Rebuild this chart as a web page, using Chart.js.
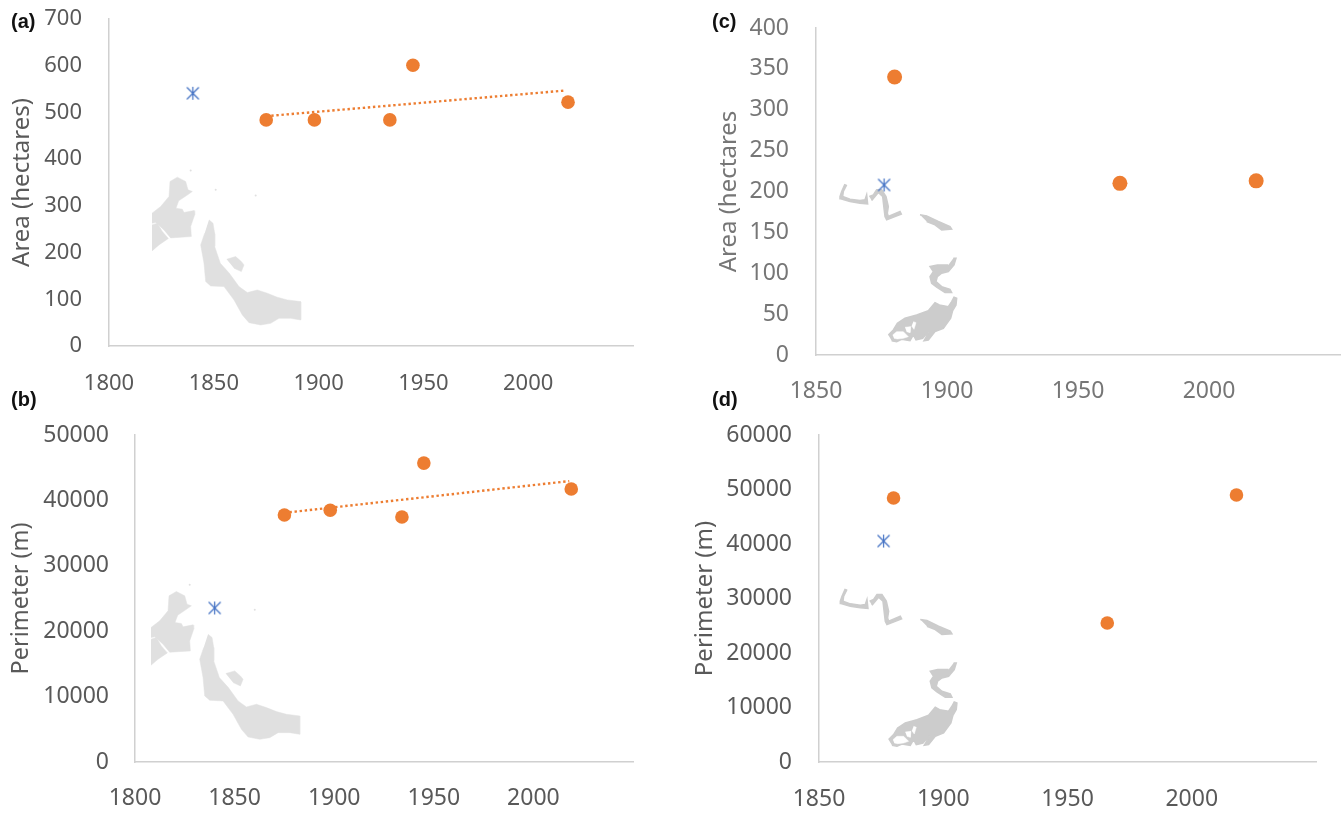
<!DOCTYPE html>
<html>
<head>
<meta charset="utf-8">
<script src="https://cdn.jsdelivr.net/npm/chart.js@4"></script>
<style>
  html, body { margin: 0; background: #fff; }
  body { width: 1343px; height: 813px; position: relative; overflow: hidden; }
  canvas { position: absolute; }
  .tag { position: absolute; font: bold 20px/23px "Liberation Sans", sans-serif; color: #111; z-index: 2; }
</style>
</head>
<body>
<div class="tag" style="left:11px;top:10px">(a)</div>
<div class="tag" style="left:11px;top:388px">(b)</div>
<div class="tag" style="left:712px;top:10px">(c)</div>
<div class="tag" style="left:712px;top:388px">(d)</div>
<canvas id="chart-a" width="640" height="400" style="left:0;top:0"></canvas>
<canvas id="chart-b" width="640" height="413" style="left:0;top:400px"></canvas>
<canvas id="chart-c" width="653" height="400" style="left:690px;top:0"></canvas>
<canvas id="chart-d" width="653" height="413" style="left:690px;top:400px"></canvas>
<script>
// panel values
const areaA_years = [1875, 1898, 1934, 1945, 2019];
const areaA_vals = [484, 484, 484, 601, 522];
const areaA_star = [{ x: 1840, y: 541 }];
const areaA_trend = [{ x: 1875, y: 492 }, { x: 2018, y: 547 }];

const perimB_years = [1875, 1898, 1934, 1945, 2019];
const perimB_vals = [37770, 38500, 37460, 45700, 41740];
const perimB_star = [{ x: 1840, y: 23550 }];
const perimB_trend = [{ x: 1875, y: 38100 }, { x: 2018, y: 42950 }];

const areaC_years = [1880, 1966, 2018];
const areaC_vals = [340, 210, 213];
const areaC_star = [{ x: 1876, y: 208 }];

const perimD_years = [1880, 1966, 2018];
const perimD_vals = [48440, 25500, 48990];
const perimD_star = [{ x: 1876, y: 40550 }];

const xTicksLeft = [1800, 1850, 1900, 1950, 2000];
const xTicksRight = [1850, 1900, 1950, 2000];

// background map outlines, in map units (own hidden axes, see mapWin below)
const siteA_north = [[0,335],[26,355],[51,385],[54,430],[76,443],[101,430],[108,405],[121,400],[104,388],[80,372],[72,350],[91,347],[96,337],[126,343],[128,330],[116,295],[118,265],[56,261],[36,285],[11,307],[0,305]];
const siteA_wedge = [[0,300],[16,305],[31,280],[49,259],[21,240],[0,222]];
const siteA_main = [[171,315],[183,305],[188,275],[188,235],[205,185],[232,155],[261,115],[286,97],[316,105],[346,95],[376,83],[406,75],[446,70],[446,15],[416,20],[381,20],[356,5],[326,0],[291,7],[271,30],[246,75],[216,115],[176,117],[161,130],[156,185],[146,240],[158,275]];
const siteA_islet = [[224,197],[251,205],[268,190],[276,180],[268,160],[246,170]];
const siteA_specks = [[311,388],[191,405],[116,463]];

const siteC_west = [[20,472],[10,452],[8,437],[30,429],[60,425],[75,427],[80,442],[83,415],[60,417],[30,422],[2,430],[0,437],[5,452],[15,474]];
const siteC_bend = [[88,437],[100,442],[110,457],[125,457],[138,437],[145,407],[142,387],[145,377],[180,392],[184,384],[140,367],[135,377],[132,402],[128,437],[115,449],[105,437],[95,425]];
const siteC_strip = [[240,382],[260,379],[295,362],[330,347],[335,339],[305,337],[285,352],[260,362]];
const siteC_hook = [[340,252],[348,252],[342,232],[325,212],[305,207],[292,197],[288,182],[305,167],[330,159],[335,149],[315,149],[290,165],[275,177],[270,197],[280,212],[270,227],[292,232],[305,232],[325,232]];
const siteC_main = [[145,22],[160,37],[172,57],[195,72],[230,82],[265,95],[285,119],[298,112],[325,107],[335,122],[342,135],[350,132],[348,112],[338,95],[332,72],[310,42],[285,32],[265,7],[252,5],[262,22],[275,35],[266,33],[248,12],[228,7],[220,22],[210,5],[185,9],[170,2],[155,5]];
const siteC_holes = [
  [[158,22],[170,32],[190,32],[205,17],[190,12],[172,10],[162,12]],
  [[220,62],[228,59],[222,39],[215,49]],
  [[195,45],[212,47],[210,29],[200,32]],
];

const ORANGE = '#ed7d31';
const BLUE = '#4472c4';
const FONT = '"Noto Sans", sans-serif';

// excel style asterisk: an X with a vertical bar through it
function starMark(size) {
  const c = document.createElement('canvas');
  c.width = c.height = size;
  const g = c.getContext('2d');
  const m = size / 2;
  const arms = [[0, 6.5], [6, 6], [6, -6]];
  g.strokeStyle = BLUE;
  g.lineWidth = 1.2;
  arms.forEach(([dx, dy]) => {
    g.beginPath();
    g.moveTo(m - dx, m - dy);
    g.lineTo(m + dx, m + dy);
    g.stroke();
  });
  return c;
}

const toXY = pts => pts.map(p => ({ x: p[0], y: p[1] }));

function shape(pts, color, width) {
  return {
    data: toXY(pts), xAxisID: 'xMap', yAxisID: 'yMap', showLine: true, fill: 'shape',
    backgroundColor: color, borderColor: color, borderWidth: width, pointRadius: 0, tension: 0,
  };
}

// the tick labels must not push the plot area around
function noPadding(s) {
  s.paddingTop = s.paddingBottom = s.paddingLeft = s.paddingRight = 0;
}

function buildPanel(id, p) {
  const datasets = [
    { data: p.years.map((x, i) => ({ x, y: p.vals[i] })), backgroundColor: ORANGE, borderColor: ORANGE, pointRadius: p.r, pointBorderWidth: 0 },
    { data: p.star, pointStyle: starMark(17), pointRadius: 7 },
  ];
  if (p.trend) {
    datasets.push({ data: p.trend, showLine: true, borderColor: ORANGE, borderWidth: 2.4, borderDash: [2.4, 2.7], pointRadius: 0 });
  }
  (p.holes || []).forEach(h => datasets.push(shape(h, '#fff', 0.5)));
  p.map.forEach(m => datasets.push(shape(m, p.mapColor, p.mapLine)));
  if (p.specks) {
    datasets.push({ data: toXY(p.specks), xAxisID: 'xMap', yAxisID: 'yMap', backgroundColor: p.mapColor, pointRadius: 1, pointBorderWidth: 0 });
  }

  new Chart(document.getElementById(id), {
    type: 'scatter',
    data: { datasets },
    options: {
      responsive: false,
      animation: false,
      layout: { autoPadding: false, padding: { top: p.top, right: p.right, left: 0, bottom: 0 } },
      plugins: { legend: { display: false }, tooltip: { enabled: false } },
      scales: {
        x: {
          type: 'linear', min: p.xMin, max: 2050,
          afterFit: s => { s.height = p.xH; noPadding(s); },
          afterBuildTicks: s => { s.ticks = p.xTicks.concat(2050).map(v => ({ value: v })); },
          grid: { display: false, drawTicks: false },
          border: { color: '#d0d0d0', width: 1.5 },
          ticks: {
            color: p.color, padding: p.xPad, maxRotation: 0, autoSkip: false,
            font: { family: FONT, size: p.fs },
            callback: v => p.xTicks.includes(v) ? String(v) : '',
          },
        },
        y: {
          type: 'linear', min: 0, max: p.yMax,
          afterFit: s => { s.width = p.yW; noPadding(s); },
          grid: { display: false, drawTicks: false },
          border: { color: '#d0d0d0', width: 1.5 },
          ticks: {
            color: p.color, padding: p.yPad, stepSize: p.yStep, autoSkip: false,
            font: { family: FONT, size: p.fs },
            callback: v => String(v),
          },
          title: {
            display: true, text: p.title, color: p.titleColor || p.color,
            padding: { top: p.titlePad, bottom: 0 },
            font: { family: FONT, size: p.titleFs },
          },
        },
        xMap: { type: 'linear', display: false, min: p.mapWin[0], max: p.mapWin[1], afterFit: noPadding },
        yMap: { type: 'linear', display: false, position: 'left', min: p.mapWin[2], max: p.mapWin[3], afterFit: noPadding },
      },
    },
  });
}

const mapA = [siteA_north, siteA_wedge, siteA_main, siteA_islet];
const mapC = [siteC_west, siteC_bend, siteC_strip, siteC_hook, siteC_main];

buildPanel('chart-a', {
  years: areaA_years, vals: areaA_vals, star: areaA_star, trend: areaA_trend, r: 6.8,
  map: mapA, specks: siteA_specks, mapColor: '#e0e0e0', mapLine: 0.5, mapWin: [-129, 1443, -63, 917],
  top: 19, right: 7, xH: 54, yW: 109, xMin: 1800, xTicks: xTicksLeft, yMax: 700, yStep: 100,
  title: 'Area (hectares)', color: '#595959', fs: 22, titleFs: 24, xPad: 25, yPad: 27, titlePad: 8,
});
buildPanel('chart-b', {
  years: perimB_years, vals: perimB_vals, star: perimB_star, trend: perimB_trend, r: 6.8,
  map: mapA, specks: siteA_specks, mapColor: '#e0e0e0', mapLine: 0.5, mapWin: [-48, 1445, -68, 912],
  top: 35, right: 7, xH: 51, yW: 135, xMin: 1800, xTicks: xTicksLeft, yMax: 50000, yStep: 10000,
  title: 'Perimeter (m)', color: '#595959', fs: 23, titleFs: 23.5, xPad: 23, yPad: 26, titlePad: 7,
});
buildPanel('chart-c', {
  years: areaC_years, vals: areaC_vals, star: areaC_star, r: 7.5,
  map: mapC, holes: siteC_holes, mapColor: '#cccccc', mapLine: 1.5, mapWin: [-72, 1500, -38, 942],
  top: 28, right: 3, xH: 45, yW: 126, xMin: 1850, xTicks: xTicksRight, yMax: 400, yStep: 50,
  title: 'Area (hectares', color: '#767676', fs: 23, titleFs: 24, xPad: 23, yPad: 27, titlePad: 25,
});
buildPanel('chart-d', {
  years: perimD_years, vals: perimD_vals, star: perimD_star, r: 6.8,
  map: mapC, holes: siteC_holes, mapColor: '#cccccc', mapLine: 1.5, mapWin: [-64, 1428, -45, 935],
  top: 35, right: 27, xH: 51, yW: 129, xMin: 1850, xTicks: xTicksRight, yMax: 60000, yStep: 10000,
  title: 'Perimeter (m)', color: '#595959', fs: 23, titleFs: 24, xPad: 24, yPad: 27, titlePad: 1,
});
</script>
</body>
</html>
